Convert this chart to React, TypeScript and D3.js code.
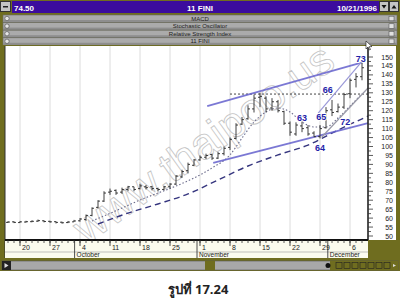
import React from 'react';
import * as d3 from 'd3';

const W = 400;
const H = 306;

// Daily bars (day index 1..60)
const opens = [57.6, 57.9, 57.5, 57.8, 58.0, 58.3, 58.5, 58.2, 58.0, 57.7, 57.5, 57.9,
  58.5, 59.2, 61.5, 66, 69.5, 74.5, 75.5, 74.5, 76, 77.5, 76.5, 77.5, 77.5, 76.5, 76, 77.5, 79, 83, 86.5, 89.5,
  92.5, 94, 95.5, 93.5, 96, 99.5, 104.5, 112.5, 115.5, 121, 127.5, 127, 121.5, 125, 119.5, 113, 107, 111.5,
  110.5, 107.5, 105.5, 110.5, 120.5, 119.5, 122, 129.5, 137.5, 139];
const highs = [58.3, 58.2, 58.4, 58.5, 58.8, 59.2, 58.8, 58.5, 58.2, 58.0, 58.4, 59.0,
  60, 62, 66, 70, 75, 76.5, 76, 77, 78, 77.5, 79, 78.5, 78, 77, 78, 79.5, 84, 87, 91, 93,
  95, 96, 96, 97, 100, 105, 113, 116.5, 123, 129, 130, 128, 127, 126, 120, 114, 113.5, 114.5,
  112, 108.5, 112, 122, 126, 124, 130, 138, 141, 148];
const lows = [57.3, 57.2, 57.4, 57.5, 57.7, 57.9, 57.6, 57.4, 57.0, 56.9, 57.2, 57.8,
  58, 58.5, 61, 65.5, 69, 73, 73, 73.5, 75, 75, 76, 76, 75.5, 75, 75.5, 76.5, 78.5, 82.5, 85, 89,
  92, 93, 92.5, 93, 95, 98, 104, 112, 115, 119, 122, 119, 120, 119, 112, 106, 106, 108,
  106, 105.5, 104.5, 110, 117, 119, 121, 127, 133, 137];
const closes = [57.8, 57.6, 57.9, 58.0, 58.2, 58.6, 58.1, 57.9, 57.6, 57.4, 57.8, 58.4,
  59.5, 61.5, 65.5, 69.5, 74, 75, 74, 76, 77.5, 76, 78, 77, 76.5, 76, 77.5, 79, 83.5, 86, 90, 92.5,
  94, 95, 93.5, 96, 99, 104, 112, 115, 121, 127, 128, 121, 125, 120, 113, 108, 112, 110,
  107, 105.5, 110, 120, 119, 122, 129, 137, 139, 144];

// Moving averages
const shortMaDays = [15, 17, 20, 23, 26, 29, 32, 35, 38, 40, 42, 44, 46, 48, 50, 52, 54, 56, 58, 60];
const shortMaValues = [58.4, 61.2, 65.6, 70.1, 74.0, 77.9, 82.4, 88.0, 95.3, 104.7, 113.7, 119.3, 121.5,
  119.3, 113.7, 110.9, 110.9, 115.9, 122.5, 129.5];
const longMaDays = [16, 21, 26, 31, 36, 41, 46, 51, 56, 61];
const longMaValues = [56.7, 62.8, 67.9, 73.5, 81.3, 89.1, 95.3, 100.8, 109.2, 117];

// Trend lines: [dayA, priceA, dayB, priceB]
const upperTrend = [34.2, 122.6, 60.2, 147.2];
const lowerTrend = [35.2, 90.8, 61, 113.1];
const channelTop = [52.7, 118.7, 60.0, 147.5];
const channelBottom = [53.3, 105.3, 61, 132.7];
const resistance = [38, 129.3, 61, 129.3];

// Wave labels
const noteTexts = ['73', '66', '63', '65', '64', '72'];
const noteDays = [59.8, 54.3, 50, 53.2, 53, 57.2];
const notePrices = [149, 131.6, 115.9, 116.5, 99.2, 113.7];

// Axes
const priceTicks = [50, 55, 60, 65, 70, 75, 80, 85, 90, 95, 100, 105, 110, 115, 120, 125, 130, 135, 140, 145, 150];
const weekTickDays = [3, 8, 13, 18, 23, 28, 33, 38, 43, 48, 53, 58];
const weekTickLabels = ['20', '27', '4', '11', '18', '25', '1', '8', '15', '22', '29', '6'];
const monthStartDays = [12.1, 32.5, 54.3];
const monthNames = ['October', 'November', 'December'];
const paneNames = ['MACD', 'Stochastic Oscillator', 'Relative Strength Index', '11 FINI'];

const OLIVE = '#6f6d1f';
const PURPLE = '#3b0c9e';
const TREND = '#6460cc';
const NOTE = '#1f22a8';

const plotLeft = 5;
const plotRight = 368;
const plotTop = 46;
const plotBottom = 240;

const x = d3.scaleLinear().domain([0, 61]).range([2, 368]);
const y = d3.scaleLinear().domain([50, 150]).range([236, 57]);

const seg = (s: number[]) => ({ x1: x(s[0]), y1: y(s[1]), x2: x(s[2]), y2: y(s[3]) });

export default function App() {
  const shortLine = d3.line<number>()
    .x((_, i) => x(shortMaDays[i]))
    .y((v) => y(v))
    .curve(d3.curveMonotoneX)(shortMaValues) || '';
  const longLine = d3.line<number>()
    .x((_, i) => x(longMaDays[i]))
    .y((v) => y(v))
    .curve(d3.curveMonotoneX)(longMaValues) || '';

  const minorPrice = d3.range(50, 150.1, 2.5);
  const dayTicks = d3.range(1, 61);

  return (
    <svg width={W} height={H} style={{ position: 'absolute', left: 0, top: 0, background: '#fff' }}
      fontFamily="Liberation Sans, Arial, sans-serif">
      {/* window frame */}
      <rect x={0} y={0} width={W} height={271} fill={OLIVE} />

      {/* title bar */}
      <rect x={12} y={1} width={367} height={12} fill={PURPLE} />
      <rect x={0.5} y={1.5} width={10} height={10} fill="#c4c4c4" stroke="#333" />
      <rect x={3} y={6} width={5} height={1.5} fill="#222" />
      <text x={14} y={10.5} fill="#fff" fontSize={8} fontWeight="bold">74.50</text>
      <text x={200} y={10.5} fill="#fff" fontSize={8} fontWeight="bold" textAnchor="middle">11 FINI</text>
      <text x={377} y={10.5} fill="#fff" fontSize={8} fontWeight="bold" textAnchor="end">10/21/1996</text>
      <rect x={379.5} y={1.5} width={9} height={10} fill="#c4c4c4" stroke="#333" />
      <path d="M381.5,5 L386.5,5 L384,8.5 Z" fill="#111" />
      <rect x={389.5} y={1.5} width={9} height={10} fill="#c4c4c4" stroke="#333" />
      <path d="M391.5,8.5 L396.5,8.5 L394,5 Z" fill="#111" />

      {/* collapsed indicator panes */}
      {paneNames.map((name, i) => {
        const top = 15 + i * 7.6;
        return (
          <g key={name}>
            <rect x={3} y={top} width={394} height={7} fill="#ababab" stroke="#6a6a6a" strokeWidth={0.6} />
            <rect x={3} y={top + 5} width={394} height={2} fill="#8e8e8e" />
            <circle cx={7} cy={top + 3.5} r={2.2} fill="#e6e6e6" stroke="#444" strokeWidth={0.6} />
            <rect x={389} y={top + 1.2} width={5} height={4.6} fill="#e0e0e0" stroke="#444" strokeWidth={0.5} />
            <text x={200} y={top + 5.6} fontSize={6} textAnchor="middle" fill="#222">{name}</text>
          </g>
        );
      })}

      {/* chart panel */}
      <rect x={plotLeft} y={plotTop} width={391} height={plotBottom - plotTop} fill="#fff" />
      <line x1={plotLeft} y1={plotTop} x2={plotLeft} y2={258} stroke="#333" />
      <rect x={plotLeft} y={plotBottom} width={plotRight - plotLeft} height={18} fill="#fbfbee" />

      {/* weekly grid */}
      {weekTickDays.map((d) => (
        <line key={'g' + d} x1={x(d)} x2={x(d)} y1={plotTop} y2={plotBottom} stroke="#dcdcdc" strokeWidth={1} />
      ))}

      {/* watermark */}
      <text x={203} y={143} transform="rotate(-35.5 203 143)" textAnchor="middle" dominantBaseline="central"
        fontSize={44} fill="#ffffff" fillOpacity={0.15} stroke="#c4c4c4" strokeWidth={0.8}
        fontFamily="Liberation Sans, Arial, sans-serif">www.thaipoo.us</text>

      {/* moving averages */}
      <path d={longLine} fill="none" stroke="#35357e" strokeWidth={1.4} strokeDasharray="6,4" />
      <path d={shortLine} fill="none" stroke="#6c6c8c" strokeWidth={1.1} strokeDasharray="1.5,2" />

      {/* resistance */}
      <line {...seg(resistance)} stroke="#444" strokeWidth={1} strokeDasharray="2,2" />

      {/* trend lines */}
      <line {...seg(upperTrend)} stroke={TREND} strokeWidth={1.8} strokeOpacity={0.85} />
      <line {...seg(lowerTrend)} stroke={TREND} strokeWidth={1.8} strokeOpacity={0.85} />
      <line {...seg(channelTop)} stroke="#9a98d8" strokeWidth={1.2} />
      <line {...seg(channelBottom)} stroke="#9a9aa8" strokeWidth={1.2} />

      {/* OHLC bars */}
      {closes.map((c, i) => {
        const cx = x(i + 1);
        return (
          <g key={'b' + i} stroke="#2a2a2a" strokeWidth={0.9}>
            <line x1={cx} x2={cx} y1={y(highs[i])} y2={y(lows[i])} />
            <line x1={cx - 2} x2={cx} y1={y(opens[i])} y2={y(opens[i])} />
            <line x1={cx} x2={cx + 2} y1={y(c)} y2={y(c)} />
          </g>
        );
      })}

      {/* wave labels */}
      {noteTexts.map((t, i) => (
        <text key={'n' + t} x={x(noteDays[i])} y={y(notePrices[i])} textAnchor="middle" dominantBaseline="central"
          fontSize={9} fontWeight="bold" fill={NOTE} stroke="#fff" strokeWidth={2} paintOrder="stroke">{t}</text>
      ))}

      {/* right price axis */}
      <line x1={plotRight} x2={plotRight} y1={plotTop} y2={plotBottom} stroke="#222" strokeWidth={1.6} />
      {minorPrice.map((p) => (
        <line key={'pt' + p} x1={plotRight} x2={plotRight + (p % 5 === 0 ? 5 : 3)} y1={y(p)} y2={y(p)}
          stroke="#333" strokeWidth={0.8} />
      ))}
      {priceTicks.map((p) => (
        <text key={'pl' + p} x={393} y={y(p) + 2.5} fontSize={7} textAnchor="end" fill="#222">{p}</text>
      ))}

      {/* date axis */}
      <line x1={plotLeft} x2={plotRight} y1={plotBottom} y2={plotBottom} stroke="#111" strokeWidth={2} />
      {dayTicks.map((d) => (
        <line key={'dt' + d} x1={x(d)} x2={x(d)} y1={plotBottom} y2={plotBottom + 3} stroke="#333" strokeWidth={0.8} />
      ))}
      {weekTickDays.map((d, i) => (
        <g key={'wl' + d}>
          <line x1={x(d)} x2={x(d)} y1={plotBottom} y2={plotBottom + 6} stroke="#222" strokeWidth={0.8} />
          <text x={x(d) + 2} y={plotBottom + 10} fontSize={7} fill="#222">{weekTickLabels[i]}</text>
        </g>
      ))}
      <line x1={plotLeft} x2={plotRight} y1={plotBottom + 12} y2={plotBottom + 12} stroke="#999" strokeWidth={0.6} />
      {monthStartDays.map((d, i) => (
        <g key={'m' + d}>
          <line x1={x(d)} x2={x(d)} y1={plotBottom} y2={plotBottom + 18} stroke="#222" strokeWidth={0.8} />
          <text x={x(d) + 2} y={plotBottom + 17} fontSize={6.5} fill="#222">{monthNames[i]}</text>
        </g>
      ))}
      <rect x={plotRight + 1} y={plotBottom} width={W - plotRight - 1} height={20} fill={OLIVE} />

      {/* mouse pointer */}
      <path d="M366,41 L366,49 L368,47 L369.5,50 L370.5,49.5 L369.2,46.6 L372,46.6 Z" fill="#fff" stroke="#111" strokeWidth={0.6} />

      {/* bottom scroll bar */}
      <rect x={2} y={261} width={396} height={9} fill="#a8a8a8" stroke="#555" strokeWidth={0.6} />
      <rect x={2} y={261} width={9} height={9} fill="#222" />
      <path d="M4.5,263 L8.5,265.5 L4.5,268 Z" fill="#ddd" />
      <rect x={205} y={261} width={10} height={9} fill={OLIVE} />
      <rect x={330} y={261} width={68} height={9} fill={OLIVE} />
      <circle cx={328} cy={265.5} r={2.5} fill="#111" />
      {[336, 344, 352, 360, 368, 376, 384].map((bx) => (
        <rect key={'bb' + bx} x={bx} y={262.5} width={6} height={6} fill="none" stroke="#222" strokeWidth={0.6} />
      ))}
      <path d="M393,264 L396,265.5 L393,267 Z" fill="#ddd" />

      {/* caption */}
      <text x={198} y={294} textAnchor="middle" fontSize={13} fontWeight="bold" fill="#222"
        fontFamily="Noto Sans, DejaVu Sans, sans-serif">รูปที่ 17.24</text>
    </svg>
  );
}
